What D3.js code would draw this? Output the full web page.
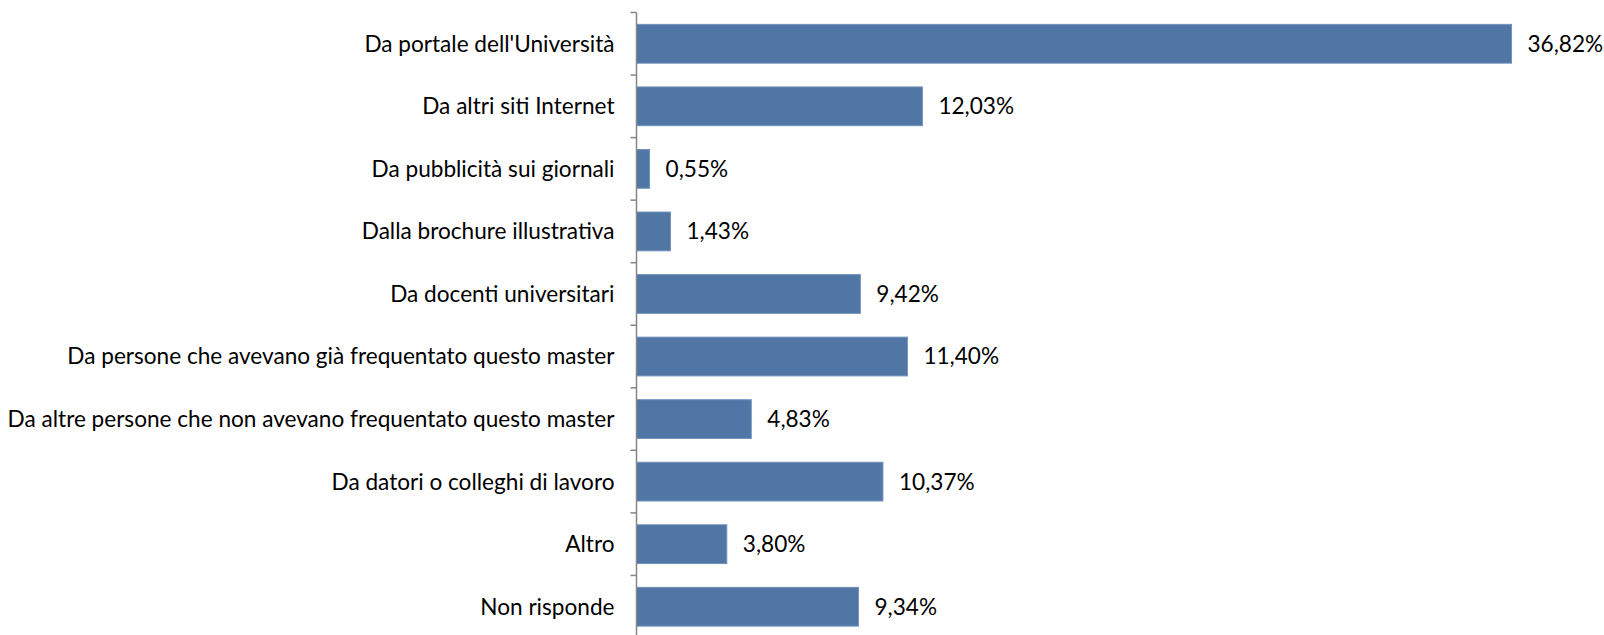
<!DOCTYPE html>
<html>
<head>
<meta charset="utf-8">
<script src="https://cdn.jsdelivr.net/npm/d3@7"></script>
<style>
body { margin: 0; background: white; }
</style>
</head>
<body>
<div id="container"></div>
<script>
const categories = [
	"Da portale dell'Università",
	"Da altri siti Internet",
	"Da pubblicità sui giornali",
	"Dalla brochure illustrativa",
	"Da docenti universitari",
	"Da persone che avevano già frequentato questo master",
	"Da altre persone che non avevano frequentato questo master",
	"Da datori o colleghi di lavoro",
	"Altro",
	"Non risponde"
];
const values = [36.82, 12.03, 0.55, 1.43, 9.42, 11.40, 4.83, 10.37, 3.80, 9.34];
const valueLabels = ["36,82%", "12,03%", "0,55%", "1,43%", "9,42%", "11,40%", "4,83%", "10,37%", "3,80%", "9,34%"];

const w = 1604; // canvas width
const h = 635; // canvas height
const axisX = 636.5; // position of the vertical axis

const svg = d3.select("#container").append("svg").attr("width", w).attr("height", h).style("font-family", "Lato, 'Open Sans', sans-serif");

const xScale = d3.scaleLinear().domain([0, 40]).range([axisX, axisX + 950.6]);
const yScale = d3.scaleBand().domain(categories).range([12.5, 638]).paddingInner(0.38).paddingOuter(0.19);

svg.selectAll("rect").data(values).enter().append("rect")
	.attr("x", xScale(0))
	.attr("y", (d, i) => yScale(categories[i]))
	.attr("width", (d) => xScale(d) - xScale(0))
	.attr("height", yScale.bandwidth())
	.attr("fill", "#4f76a4")
	.attr("stroke", "#7393bb")
	.attr("stroke-width", 1);

svg.selectAll(".val").data(values).enter().append("text")
	.attr("class", "val")
	.attr("x", (d) => xScale(d) + 16)
	.attr("y", (d, i) => yScale(categories[i]) + yScale.bandwidth() / 2)
	.attr("dy", "0.35em")
	.attr("font-size", 22.6)
	.attr("fill", "#000")
	.text((d, i) => valueLabels[i]);

// y axis: line plus ticks between categories
const step = yScale.step();
const ticks = d3.range(categories.length + 1).map((i) => 12.5 + i * step);
svg.append("line").attr("x1", axisX).attr("x2", axisX).attr("y1", 12.5).attr("y2", h).attr("stroke", "#868686").attr("stroke-width", 1.5);
svg.selectAll(".tick").data(ticks).enter().append("line")
	.attr("x1", axisX - 6).attr("x2", axisX).attr("y1", (d) => d).attr("y2", (d) => d)
	.attr("stroke", "#868686").attr("stroke-width", 1.5);

svg.selectAll(".cat").data(categories).enter().append("text")
	.attr("class", "cat")
	.attr("x", axisX - 22)
	.attr("y", (d) => yScale(d) + yScale.bandwidth() / 2)
	.attr("dy", "0.35em")
	.attr("text-anchor", "end")
	.attr("font-size", 22.6)
	.attr("fill", "#000")
	.text((d) => d);
</script>
</body>
</html>
